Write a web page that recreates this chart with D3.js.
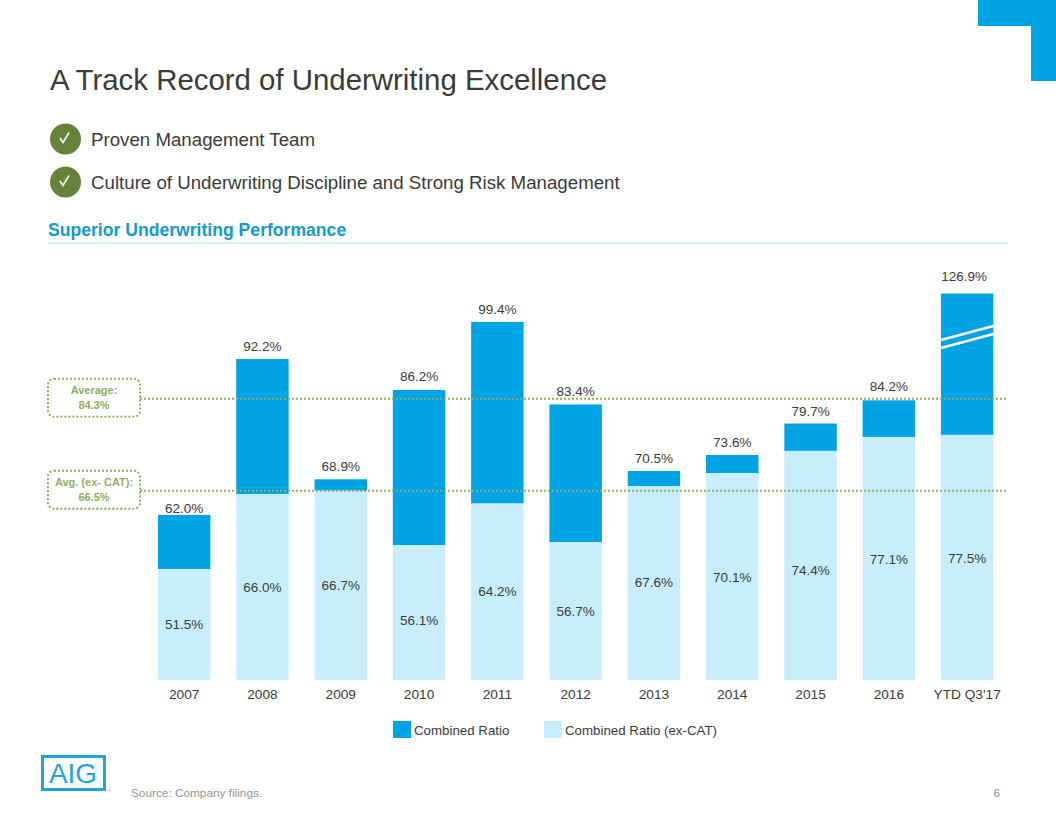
<!DOCTYPE html>
<html><head><meta charset="utf-8">
<script src="https://cdnjs.cloudflare.com/ajax/libs/d3/7.8.5/d3.min.js"></script>
<style>
html,body{margin:0;padding:0;background:#fff}
svg{display:block}
text{font-family:"Liberation Sans",Arial,sans-serif}
</style></head><body>
<svg id="c" width="1056" height="816"></svg>
<script>
const categories=["2007","2008","2009","2010","2011","2012","2013","2014","2015","2016","YTD Q3'17"];
const combinedRatio=[62.0,92.2,68.9,86.2,99.4,83.4,70.5,73.6,79.7,84.2,126.9];
const exCatRatio=[51.5,66.0,66.7,56.1,64.2,56.7,67.6,70.1,74.4,77.1,77.5];
const averageLines=[{title:"Average:",value:84.3},{title:"Avg. (ex- CAT):",value:66.5}];
const legendItems=["Combined Ratio","Combined Ratio (ex-CAT)"];
const bullets=["Proven Management Team","Culture of Underwriting Discipline and Strong Risk Management"];

const DARK="#00a3e3",LIGHT="#c8eefe",GREEN="#8fae62",TXT="#3a3a3a";
const svg=d3.select("#c");

// Value axis starts at 30 and the last bar is truncated at the axis break (clamped)
const x=d3.scaleBand().domain(categories).range([145,1006.3]).paddingInner(0.33).paddingOuter(0.165);
const y=d3.scaleLinear().domain([30,104.9]).range([680,293.5]).clamp(true);

// Hand placement of individual labels in the original slide
const totalNudgeY={"2007":6,"2010":-1,"2016":-1,"YTD Q3'17":-5};
const totalNudgeX={"YTD Q3'17":-3};
const exNudgeY={"2010":8,"2015":5,"2014":1,"2016":1,"YTD Q3'17":1};

// Corner mark
svg.append("path").attr("fill",DARK).attr("d","M978 0H1056V81H1031V26H978Z");

// Headings
svg.append("text").attr("x",50).attr("y",90).attr("font-size",29.4).attr("fill",TXT).text("A Track Record of Underwriting Excellence");
const by=[139,182],bt=[145.5,189];
bullets.forEach((b,i)=>{
  svg.append("circle").attr("cx",65.5).attr("cy",by[i]).attr("r",15.5).attr("fill","#648238");
  svg.append("path").attr("d",`M60 ${by[i]-1}l3 4.5l6-10`).attr("fill","none").attr("stroke","#fff").attr("stroke-width",1.5);
  svg.append("text").attr("x",91).attr("y",bt[i]).attr("font-size",18.7).attr("fill",TXT).text(b);
});
svg.append("text").attr("x",48).attr("y",236).attr("font-size",17.6).attr("font-weight","bold").attr("fill","#0f9bd7").text("Superior Underwriting Performance");
svg.append("line").attr("x1",48).attr("x2",1008).attr("y1",243).attr("y2",243).attr("stroke","#a6dcf0").attr("stroke-width",1);

// Bars
const rows=categories.map((c,i)=>({c,total:combinedRatio[i],ex:exCatRatio[i]}));
svg.selectAll("rect.total").data(rows).join("rect").attr("class","total")
  .attr("x",d=>x(d.c)).attr("width",x.bandwidth())
  .attr("y",d=>y(d.total)).attr("height",d=>y(d.ex)-y(d.total)).attr("fill",DARK);
svg.selectAll("rect.ex").data(rows).join("rect").attr("class","ex")
  .attr("x",d=>x(d.c)).attr("width",x.bandwidth())
  .attr("y",d=>y(d.ex)).attr("height",d=>y(30)-y(d.ex)).attr("fill",LIGHT);

// Axis break on the truncated bar
const last=categories[categories.length-1];
[0,8].forEach(o=>svg.append("line")
  .attr("x1",x(last)).attr("x2",x(last)+x.bandwidth())
  .attr("y1",y(95.9)+o).attr("y2",y(98.6)+o)
  .attr("stroke","#fff").attr("stroke-width",2.6));

// Labels
svg.selectAll("text.tl").data(rows).join("text").attr("class","tl")
  .attr("x",d=>x(d.c)+x.bandwidth()/2+(totalNudgeX[d.c]||0)).attr("y",d=>y(d.total)-8+(totalNudgeY[d.c]||0))
  .attr("text-anchor","middle").attr("font-size",13.5).attr("fill",TXT).text(d=>d.total.toFixed(1)+"%");
svg.selectAll("text.el").data(rows).join("text").attr("class","el")
  .attr("x",d=>x(d.c)+x.bandwidth()/2).attr("y",d=>(y(d.ex)+y(30))/2+4.5+(exNudgeY[d.c]||0))
  .attr("text-anchor","middle").attr("font-size",13.5).attr("fill",TXT).text(d=>d.ex.toFixed(1)+"%");

// Category axis
const ax=svg.append("g").attr("transform","translate(0,680)").call(d3.axisBottom(x).tickSize(0).tickPadding(9));
ax.select(".domain").remove();
ax.selectAll("text").attr("font-size",13.7).attr("fill",TXT).style("font-family",'"Liberation Sans",Arial,sans-serif');

// Average lines and their callouts
averageLines.forEach(a=>{
  const ly=y(a.value);
  svg.append("line").attr("x1",140).attr("x2",1008).attr("y1",ly-1).attr("y2",ly-1)
    .attr("stroke",GREEN).attr("stroke-width",2).attr("stroke-dasharray","2 2");
  svg.append("rect").attr("x",48).attr("y",ly-21).attr("width",92).attr("height",38).attr("rx",6)
    .attr("fill","#fff").attr("stroke",GREEN).attr("stroke-width",2).attr("stroke-dasharray","2 2");
  svg.append("text").attr("x",94).attr("y",ly-6).attr("text-anchor","middle").attr("font-size",11).attr("font-weight","bold").attr("fill",GREEN).text(a.title);
  svg.append("text").attr("x",94).attr("y",ly+9.5).attr("text-anchor","middle").attr("font-size",11).attr("font-weight","bold").attr("fill",GREEN).text(a.value.toFixed(1)+"%");
});

// Legend
const lx=[393,544],lc=[DARK,LIGHT];
legendItems.forEach((t,i)=>{
  svg.append("rect").attr("x",lx[i]).attr("y",721).attr("width",18).attr("height",17).attr("fill",lc[i]);
  svg.append("text").attr("x",lx[i]+21).attr("y",735).attr("font-size",13.3).attr("fill",TXT).text(t);
});

// Logo and footer
svg.append("rect").attr("x",42.5).attr("y",756.5).attr("width",62).attr("height",33).attr("fill","none").attr("stroke","#1fa5de").attr("stroke-width",3);
svg.append("text").attr("x",73).attr("y",783).attr("text-anchor","middle").attr("font-size",28).attr("fill","#1fa5de").text("AIG");
svg.append("text").attr("x",108).attr("y",792).attr("font-size",4).attr("fill","#1fa5de").text("®");
svg.append("text").attr("x",131).attr("y",796.5).attr("font-size",11.8).attr("fill","#939393").text("Source: Company filings.");
svg.append("text").attr("x",1000).attr("y",796.5).attr("text-anchor","end").attr("font-size",11.8).attr("fill","#939393").text("6");
</script>
</body></html>
